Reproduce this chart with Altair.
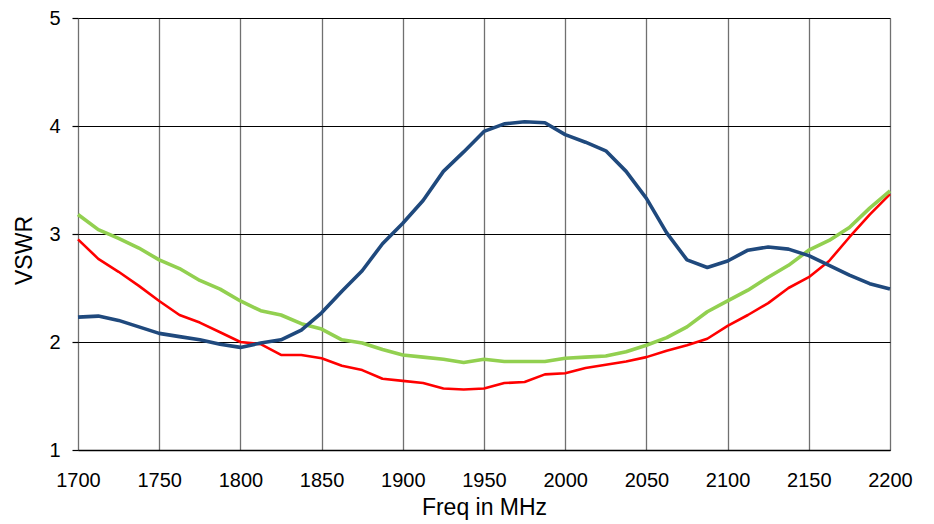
import altair as alt
import pandas as pd

freq = [1700, 1712.5, 1725, 1737.5, 1750, 1762.5, 1775, 1787.5, 1800, 1812.5,
        1825, 1837.5, 1850, 1862.5, 1875, 1887.5, 1900, 1912.5, 1925, 1937.5,
        1950, 1962.5, 1975, 1987.5, 2000, 2012.5, 2025, 2037.5, 2050, 2062.5,
        2075, 2087.5, 2100, 2112.5, 2125, 2137.5, 2150, 2162.5, 2175, 2187.5, 2200]

blue = [2.23, 2.24, 2.20, 2.14, 2.08, 2.05, 2.02, 1.98, 1.95, 1.99,
        2.02, 2.11, 2.27, 2.47, 2.66, 2.91, 3.10, 3.31, 3.58, 3.76,
        3.95, 4.02, 4.04, 4.03, 3.92, 3.85, 3.77, 3.58, 3.33, 3.01,
        2.76, 2.69, 2.75, 2.85, 2.88, 2.86, 2.80, 2.71, 2.62, 2.54, 2.49]

red = [2.95, 2.77, 2.65, 2.52, 2.38, 2.25, 2.18, 2.09, 2.00, 1.98,
       1.88, 1.88, 1.85, 1.78, 1.74, 1.66, 1.64, 1.62, 1.57, 1.56,
       1.57, 1.62, 1.63, 1.70, 1.71, 1.76, 1.79, 1.82, 1.86, 1.92,
       1.97, 2.03, 2.15, 2.25, 2.36, 2.50, 2.60, 2.75, 2.97, 3.18, 3.37]

green = [3.18, 3.04, 2.96, 2.87, 2.76, 2.68, 2.57, 2.49, 2.38, 2.29,
         2.25, 2.17, 2.12, 2.02, 1.99, 1.93, 1.88, 1.86, 1.84, 1.81,
         1.84, 1.82, 1.82, 1.82, 1.85, 1.86, 1.87, 1.91, 1.97, 2.04,
         2.14, 2.28, 2.38, 2.48, 2.60, 2.71, 2.85, 2.94, 3.06, 3.24, 3.40]

x_ticks = [1700, 1750, 1800, 1850, 1900, 1950, 2000, 2050, 2100, 2150, 2200]
y_ticks = [1, 2, 3, 4, 5]

FONT = "Liberation Sans"

x_enc = alt.X(
    "freq:Q",
    scale=alt.Scale(domain=[1700, 2200], nice=False),
    axis=alt.Axis(
        title="Freq in MHz", values=x_ticks, format="d",
        grid=True, gridColor="#707070", gridWidth=1.3,
        ticks=False, labelPadding=20, labelFlush=False, labelOverlap=False,
        labelBound=False,
        labelFontSize=20, labelFont=FONT, labelColor="#000",
        titleFontSize=23, titleFont=FONT, titleFontWeight="normal",
        titleColor="#000", titlePadding=6,
        domainColor="#000", domainWidth=1.3,
    ),
)
y_enc = alt.Y(
    "v:Q",
    scale=alt.Scale(domain=[1, 5], nice=False, zero=False),
    axis=alt.Axis(
        title="VSWR", values=y_ticks, format="d",
        grid=True, gridColor="#000", gridWidth=1.2,
        ticks=True, tickSize=6, tickColor="#000", tickWidth=1.2,
        labelPadding=12, labelFontSize=20, labelFont=FONT, labelColor="#000",
        labelFlush=False, labelOverlap=False, labelBound=False,
        titleFontSize=23, titleFont=FONT, titleFontWeight="normal",
        titleColor="#000", titleAngle=270, titleX=-54, titleY=232,
        titleAlign="center", titleBaseline="middle",
        domain=False,
    ),
)


def series(vals, color, width):
    df = pd.DataFrame({"freq": freq, "v": vals})
    return alt.Chart(df).mark_line(color=color, strokeWidth=width,
                                   strokeJoin="round").encode(x=x_enc, y=y_enc)


chart = alt.layer(
    series(red, "#ff0000", 2.6),
    series(green, "#92d050", 3.6),
    series(blue, "#1f497d", 3.6),
).properties(
    width=812, height=432,
    autosize=alt.AutoSizeParams(type="none"),
    padding={"left": 70, "top": 10, "right": 30, "bottom": 70},
).configure_view(stroke=None).configure(background="white")

chart.save("out.html", embed_options={"renderer": "svg", "actions": False})
